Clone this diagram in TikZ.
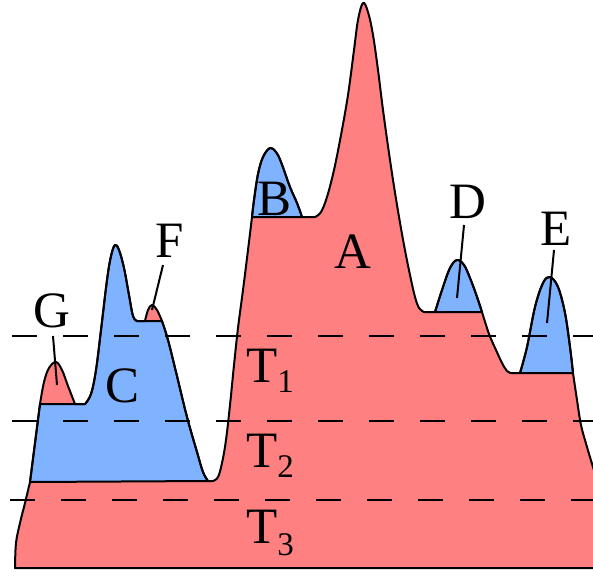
\documentclass[tikz,border=0pt]{standalone}
\usepackage{fontspec}
\setmainfont{Liberation Serif}
\definecolor{redfill}{RGB}{255,128,128}
\definecolor{bluefill}{RGB}{128,179,255}
\def\pLeftLow{plot[smooth,tension=.6] coordinates {(15,568) (16,543) (20,523) (25,503) (30,482)}}
\def\pG{plot[smooth,tension=.6] coordinates {(40,404) (44,382) (49,368) (56,362) (62,370) (68,386) (75,404)}}
\def\pC{plot[smooth,tension=.6] coordinates {(85,404) (91,394) (96,370) (101,330) (107,280) (111,256) (115,245) (119,250) (124,268) (129,295) (133,316) (137,321)}}
\def\pF{plot[smooth,tension=.6] coordinates {(145,321) (148,310) (152,305) (157,310) (162,321)}}
\def\pCr{plot[smooth,tension=.6] coordinates {(162,321) (168,340) (176,372) (187,417) (197,452) (203,472) (208,481)}}
\def\pAl{plot[smooth,tension=.6] coordinates {(213,481) (218,477) (222,463) (226,440) (230,405) (234,365) (238,328) (243,290) (248,250) (252,217)}}
\def\pB{plot[smooth,tension=.6] coordinates {(252,217) (254,200) (258,174) (263,157) (270,148) (276,152) (281,162) (290,187) (297,203) (302,217)}}
\def\pA{plot[smooth,tension=.6] coordinates {(315,217) (321,212) (327,197) (334,170) (341,135) (348,95) (354,50) (358,20) (363,3) (368,12) (373,35) (378,70) (383,110) (390,160) (397,205) (404,245) (410,275) (415,297) (419,308) (424,312)}}
\def\pD{plot[smooth,tension=.6] coordinates {(435,312) (443,287) (450,268) (457,260) (464,265) (470,278) (476,294) (482,312)}}
\def\pS{plot[smooth,tension=.6] coordinates {(482,312) (489,334) (496,350) (502,363) (507,371) (511,373)}}
\def\pE{plot[smooth,tension=.6] coordinates {(520,373) (527,347) (535,307) (543,283) (550,277) (558,287) (565,313) (570,347) (573,373)}}
\def\pR{plot[smooth,tension=.6] coordinates {(573,373) (577,400) (581,425) (587,447) (593,467) (600,490)}}
\edef\outline{\pLeftLow -- (40,404) -- \pG -- (85,404) -- \pC -- (145,321) -- \pF -- \pCr -- (213,481) -- \pAl -- \pB -- (315,217) -- \pA -- (435,312) -- \pD -- \pS -- (520,373) -- \pE -- \pR -- (600,568) -- cycle}
\edef\regionC{(30,482) -- (40,404) -- (85,404) -- \pC -- (162,321) -- \pCr -- cycle}
\edef\regionB{\pB -- cycle}
\edef\regionD{\pD -- cycle}
\edef\regionE{\pE -- cycle}
\tikzset{
  edge/.style={line width=2pt, line join=round},
  level/.style={line width=1.8pt, dash pattern=on 25pt off 26pt},
  lbl/.style={font=\fontsize{51}{60}\selectfont, inner sep=0pt, anchor=base},
  lead/.style={line width=2pt},
}
\begin{document}
\begin{tikzpicture}[x=1pt,y=-1pt]
\useasboundingbox (0,0) rectangle (593,576);
\clip (0,0) rectangle (593,576);
% red terrain
\fill[redfill] \outline;
% blue regions
\filldraw[fill=bluefill, edge] \regionC;
\filldraw[fill=bluefill, edge] \regionB;
\filldraw[fill=bluefill, edge] \regionD;
\filldraw[fill=bluefill, edge] \regionE;
% outline
\draw[edge] \outline;
% dashed levels
\draw[level] (12,336) -- (600,336);
\draw[level] (12,421) -- (600,421);
\draw[level] (10,500) -- (600,500);
% leader coordinates
\coordinate (g1) at (53,336); \coordinate (g2) at (57,385);
\coordinate (f1) at (163,265); \coordinate (f2) at (152,310);
\coordinate (d1) at (464,225); \coordinate (d2) at (457,298);
\coordinate (e1) at (554,250); \coordinate (e2) at (547,323);
\draw[lead] (g1) -- (g2);
\draw[lead] (f1) -- (f2);
\draw[lead] (d1) -- (d2);
\draw[lead] (e1) -- (e2);
% labels
\node[lbl] (lA) at (353,268) {A};
\node[lbl] (lB) at (275,215) {B};
\node[lbl] (lC) at (123,402) {C};
\node[lbl] (lG) at (52,327) {G};
\node[lbl] (lF) at (170,257) {F};
\node[lbl] (lD) at (468,218) {D};
\node[lbl] (lE) at (556,245) {E};
\node[lbl, anchor=base west] (t1) at (246,382) {T\raisebox{-10pt}{\fontsize{33}{33}\selectfont 1}};
\node[lbl, anchor=base west] (t2) at (246,467) {T\raisebox{-10pt}{\fontsize{33}{33}\selectfont 2}};
\node[lbl, anchor=base west] (t3) at (246,543) {T\raisebox{-12pt}{\fontsize{33}{33}\selectfont 3}};
\end{tikzpicture}
\end{document}
